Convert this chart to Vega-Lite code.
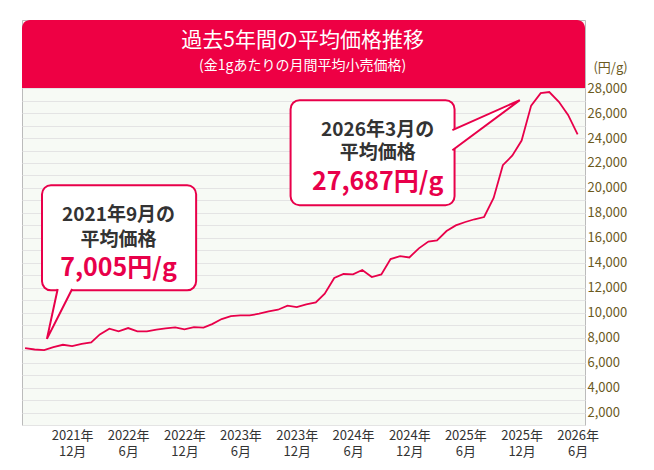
{
"$schema":"https://vega.github.io/schema/vega-lite/v6.json",
"autosize":"none","width":563,"height":405,
"padding":{"left":22,"top":20,"right":69,"bottom":45},
"config":{"font":"Noto Sans CJK JP","view":{"stroke":"#bbbbbb","fill":"#f7faf5"}},
"resolve":{"axis":{"x":"independent","y":"independent"}},
"datasets":{
"price":[
{"d":"2021-07-01","v":7160},{"d":"2021-08-01","v":7050},{"d":"2021-09-01","v":7005},{"d":"2021-10-01","v":7240},{"d":"2021-11-01","v":7430},{"d":"2021-12-01","v":7320},
{"d":"2022-01-01","v":7510},{"d":"2022-02-01","v":7620},{"d":"2022-03-01","v":8260},{"d":"2022-04-01","v":8720},{"d":"2022-05-01","v":8500},{"d":"2022-06-01","v":8770},{"d":"2022-07-01","v":8500},{"d":"2022-08-01","v":8500},{"d":"2022-09-01","v":8640},{"d":"2022-10-01","v":8740},{"d":"2022-11-01","v":8820},{"d":"2022-12-01","v":8660},
{"d":"2023-01-01","v":8850},{"d":"2023-02-01","v":8800},{"d":"2023-03-01","v":9090},{"d":"2023-04-01","v":9490},{"d":"2023-05-01","v":9730},{"d":"2023-06-01","v":9780},{"d":"2023-07-01","v":9780},{"d":"2023-08-01","v":9920},{"d":"2023-09-01","v":10100},{"d":"2023-10-01","v":10240},{"d":"2023-11-01","v":10560},{"d":"2023-12-01","v":10450},
{"d":"2024-01-01","v":10670},{"d":"2024-02-01","v":10830},{"d":"2024-03-01","v":11520},{"d":"2024-04-01","v":12780},{"d":"2024-05-01","v":13100},{"d":"2024-06-01","v":13070},{"d":"2024-07-01","v":13420},{"d":"2024-08-01","v":12860},{"d":"2024-09-01","v":13070},{"d":"2024-10-01","v":14300},{"d":"2024-11-01","v":14540},{"d":"2024-12-01","v":14430},
{"d":"2025-01-01","v":15160},{"d":"2025-02-01","v":15700},{"d":"2025-03-01","v":15800},{"d":"2025-04-01","v":16550},{"d":"2025-05-01","v":17000},{"d":"2025-06-01","v":17270},{"d":"2025-07-01","v":17490},{"d":"2025-08-01","v":17670},{"d":"2025-09-01","v":19200},{"d":"2025-10-01","v":21820},{"d":"2025-11-01","v":22600},{"d":"2025-12-01","v":23800},
{"d":"2026-01-01","v":26600},{"d":"2026-02-01","v":27600},{"d":"2026-03-01","v":27687},{"d":"2026-04-01","v":26900},{"d":"2026-05-01","v":25850},{"d":"2026-06-01","v":24300}
],
"boxes":[{"x1":"2021-08-25","x2":"2023-01-08","y1":11790,"y2":20216},{"x1":"2023-11-11","x2":"2025-04-27","y1":18610,"y2":27037}],
"ptr":[{"g":"a","o":1,"x":"2021-10-15","y":11900},{"g":"a","o":2,"x":"2021-09-10","y":7900},{"g":"a","o":3,"x":"2021-12-01","y":11900},
{"g":"b","o":1,"x":"2025-04-20","y":24630},{"g":"b","o":2,"x":"2025-11-25","y":27037},{"g":"b","o":3,"x":"2025-04-20","y":23020}],
"labels":[
{"x":"2022-05-01","y":17800,"t":"2021年9月の","k":"a"},{"x":"2022-05-01","y":15800,"t":"平均価格","k":"a"},{"x":"2022-05-01","y":13555,"t":"7,005円/g","k":"b"},
{"x":"2024-08-20","y":24630,"t":"2026年3月の","k":"a"},{"x":"2024-08-20","y":22780,"t":"平均価格","k":"a"},{"x":"2024-08-20","y":20450,"t":"27,687円/g","k":"b"}],
"banner":[{"x1":"2021-06-21","x2":"2026-06-25","y1":28000,"y2":33460}],
"btext":[{"x":"2023-12-20","y":31800,"t":"過去5年間の平均価格推移","s":21,"w":"bold"},{"x":"2023-12-20","y":29750,"t":"(金1gあたりの月間平均小売価格)","s":14,"w":"normal"}]
},
"layer":[
{"data":{"name":"price"},"mark":{"type":"line","color":"#e8004a","strokeWidth":1.8},
"encoding":{"x":{"field":"d","type":"temporal","scale":{"domain":["2021-06-21","2026-06-25"]},
"axis":{"title":null,"grid":false,"ticks":false,"domain":false,"labelColor":"#333","labelFontSize":13,"labelPadding":4,"labelLineHeight":16,"labelOverlap":false,
"values":["2021-12-01","2022-06-01","2022-12-01","2023-06-01","2023-12-01","2024-06-01","2024-12-01","2025-06-01","2025-12-01","2026-06-01"],
"labelExpr":"[year(datum.value)+'年', month(datum.value)+1+'月']"}},
"y":{"field":"v","type":"quantitative","scale":{"domain":[1000,33460],"nice":false,"zero":false},
"axis":{"orient":"right","title":"(円/g)","titleAngle":0,"titleX":25,"titleY":47,"titleAlign":"center","titleBaseline":"middle","titleFontWeight":"normal","titleFontSize":13,"titleColor":"#6b5a1e",
"values":[1000,2000,3000,4000,5000,6000,7000,8000,9000,10000,11000,12000,13000,14000,15000,16000,17000,18000,19000,20000,21000,22000,23000,24000,25000,26000,27000,28000],
"labelExpr":"datum.value % 2000 == 0 ? format(datum.value, ',') : ''","labelColor":"#6b5a1e","labelFontSize":13,"labelPadding":2,"labelOverlap":false,"labelBound":false,
"ticks":false,"domain":false,"grid":true,"gridColor":"#e4e4e4"}}}},
{"data":{"name":"banner"},"mark":{"type":"rect","color":"#ee0044","cornerRadiusTopLeft":8,"cornerRadiusTopRight":8},
"encoding":{"x":{"field":"x1","type":"temporal","axis":null},"x2":{"field":"x2"},"y":{"field":"y1","type":"quantitative","axis":null},"y2":{"field":"y2"}}},
{"data":{"name":"btext"},"mark":{"type":"text","color":"white"},
"encoding":{"x":{"field":"x","type":"temporal","axis":null},"y":{"field":"y","type":"quantitative","axis":null},"text":{"field":"t"},"size":{"field":"s","type":"quantitative","scale":null},"fontWeight":{"field":"w","type":"nominal","scale":null}}},
{"data":{"name":"boxes"},"mark":{"type":"rect","fill":"white","stroke":"#e8004a","strokeWidth":2,"cornerRadius":9},
"encoding":{"x":{"field":"x1","type":"temporal","axis":null},"x2":{"field":"x2"},"y":{"field":"y1","type":"quantitative","axis":null},"y2":{"field":"y2"}}},
{"data":{"name":"ptr"},"mark":{"type":"line","stroke":"#e8004a","strokeWidth":2,"fill":"white"},
"encoding":{"x":{"field":"x","type":"temporal","axis":null},"y":{"field":"y","type":"quantitative","axis":null},"detail":{"field":"g"},"order":{"field":"o"}}},
{"data":{"name":"labels"},"mark":{"type":"text","fontWeight":"bold"},
"encoding":{"x":{"field":"x","type":"temporal","axis":null},"y":{"field":"y","type":"quantitative","axis":null},"text":{"field":"t"},
"color":{"field":"k","type":"nominal","scale":{"domain":["a","b"],"range":["#333333","#e8004a"]},"legend":null},
"size":{"field":"k","type":"nominal","scale":{"domain":["a","b"],"range":[19,25]},"legend":null}}}
]
}
